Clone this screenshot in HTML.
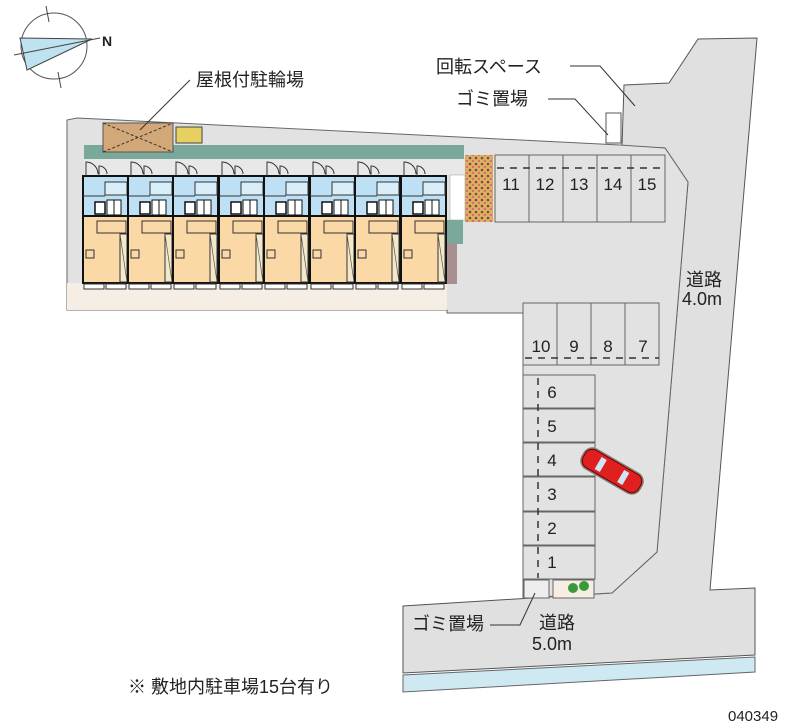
<!DOCTYPE html>
<html><head><meta charset="utf-8"><style>
html,body{margin:0;padding:0;background:#fff;}
svg{display:block;}
text{font-family:"Liberation Sans","Noto Sans CJK JP",sans-serif;fill:#222;}
</style></head><body>
<svg width="800" height="727" viewBox="0 0 800 727" xmlns="http://www.w3.org/2000/svg">
<defs>
<pattern id="brick" width="6" height="6" patternUnits="userSpaceOnUse">
<rect width="6" height="6" fill="#e0b060"/><circle cx="2" cy="2" r="1.3" fill="#705040"/><circle cx="5" cy="5" r="1.3" fill="#d07070"/>
</pattern>
<g id="unit">
<rect x="0" y="176" width="45" height="40" fill="#bde0f5" stroke="#111" stroke-width="2"/>
<rect x="0" y="216" width="45" height="67" fill="#fbd9a7" stroke="#111" stroke-width="2"/>
<path d="M3,176 L3,162 A12,12 0 0 1 15,174" fill="none" stroke="#333" stroke-width="1"/>
<path d="M16,176 L16,166 A8,8 0 0 1 24,174" fill="none" stroke="#333" stroke-width="1"/>
<rect x="22" y="182" width="22" height="13" fill="#d8eef8" stroke="#333" stroke-width="1"/>
<line x1="0" y1="196" x2="22" y2="196" stroke="#333" stroke-width="1"/>
<rect x="12" y="202" width="10" height="12" fill="#fff" stroke="#111" stroke-width="1.5"/>
<rect x="24" y="200" width="14" height="15" fill="#fff" stroke="#111" stroke-width="1"/>
<line x1="31" y1="200" x2="31" y2="215" stroke="#111"/>
<path d="M14,221 L43,221 L43,233 L14,233 Z" fill="none" stroke="#333" stroke-width="1"/>
<rect x="37" y="234" width="7" height="48" fill="#f5e8c8" stroke="#333" stroke-width="1"/>
<line x1="37" y1="234" x2="44" y2="282" stroke="#555" stroke-width="0.7"/>
<rect x="3" y="250" width="8" height="8" fill="none" stroke="#333" stroke-width="1"/>
<rect x="1" y="284" width="20" height="5" fill="#fff" stroke="#333" stroke-width="1"/>
<rect x="23" y="284" width="20" height="5" fill="#fff" stroke="#333" stroke-width="1"/>
</g>
</defs>
<!-- compass -->
<circle cx="54" cy="46" r="33" fill="none" stroke="#555" stroke-width="1"/>
<polygon points="20,38 92,39 27,70" fill="#bfe2f0" stroke="#444" stroke-width="1"/>
<line x1="14" y1="55" x2="100" y2="38" stroke="#444"/>
<line x1="46" y1="6" x2="49" y2="22" stroke="#444"/><line x1="58" y1="72" x2="61" y2="88" stroke="#444"/>
<text x="102" y="46" font-size="14" font-weight="bold">N</text>

<!-- right road -->
<polygon points="698,39 757,38 710,590 755,588 755,655 403,673 403,606 612,593 657,552 688,182 665,148 622,146 624,85 669,83" fill="#e0e0e0" stroke="#555" stroke-width="1"/>
<polygon points="403,675 755,657 755,672 403,692" fill="#cfe9f3" stroke="#666" stroke-width="1"/>
<!-- lot -->
<polygon points="77,118 620,145 665,148 688,182 657,552 612,593 523,598 523,313 447,313 447,310 67,310 67,120" fill="#e2e2e2" stroke="#666" stroke-width="1"/>
<rect x="67" y="283" width="380" height="27" fill="#f6eee4"/>
<rect x="84" y="145" width="380" height="14" fill="#7aa89a"/>
<rect x="84" y="159" width="380" height="16" fill="#e8e8e8"/>
<rect x="447" y="220" width="16" height="24" fill="#7aa89a"/>
<rect x="447" y="244" width="10" height="40" fill="#a89090"/>
<rect x="465" y="155" width="28" height="67" fill="url(#brick)"/>
<rect x="450" y="175" width="15" height="45" fill="#fff" stroke="#999" stroke-width="0.5"/>
<!-- bicycle parking -->
<rect x="103" y="123" width="70" height="29" fill="#d2a878" stroke="#555"/>
<line x1="103" y1="123" x2="173" y2="152" stroke="#333" stroke-dasharray="3,2"/><line x1="103" y1="152" x2="173" y2="123" stroke="#333" stroke-dasharray="3,2"/>
<rect x="176" y="127" width="26" height="16" fill="#e8d060" stroke="#444"/>
<line x1="140" y1="130" x2="190" y2="80" stroke="#333"/>
<!-- units -->
<use href="#unit" x="83"/><use href="#unit" x="128"/><use href="#unit" x="173"/><use href="#unit" x="219"/>
<use href="#unit" x="264"/><use href="#unit" x="310"/><use href="#unit" x="355"/><use href="#unit" x="401"/>
<!-- parking -->
<g fill="#e2e2e2" stroke="#666">
<rect x="495" y="155" width="34" height="67"/><rect x="529" y="155" width="34" height="67"/><rect x="563" y="155" width="34" height="67"/><rect x="597" y="155" width="34" height="67"/><rect x="631" y="155" width="34" height="67"/>
<rect x="523" y="303" width="34" height="62"/><rect x="557" y="303" width="34" height="62"/><rect x="591" y="303" width="34" height="62"/><rect x="625" y="303" width="34" height="62"/>
<rect x="523" y="375" width="72" height="33"/><rect x="523" y="409" width="72" height="33"/><rect x="523" y="443" width="72" height="33"/><rect x="523" y="477" width="72" height="34"/><rect x="523" y="512" width="72" height="33"/><rect x="523" y="546" width="72" height="33"/>
<rect x="524" y="580" width="25" height="18" fill="#eee"/><rect x="553" y="580" width="41" height="18" fill="#f6eee4"/>
</g>
<line x1="497" y1="168" x2="665" y2="168" stroke="#333" stroke-width="1.5" stroke-dasharray="7,6"/>
<line x1="525" y1="358" x2="659" y2="358" stroke="#333" stroke-width="1.5" stroke-dasharray="7,6"/>
<line x1="538" y1="378" x2="538" y2="578" stroke="#333" stroke-width="1.5" stroke-dasharray="7,6"/>
<circle cx="573" cy="588" r="5" fill="#3a9a3a"/><circle cx="584" cy="586" r="5" fill="#3a9a3a"/>
<g font-size="17" text-anchor="middle">
<text x="511" y="190">11</text><text x="545" y="190">12</text><text x="579" y="190">13</text><text x="613" y="190">14</text><text x="647" y="190">15</text>
<text x="541" y="352">10</text><text x="574" y="352">9</text><text x="608" y="352">8</text><text x="643" y="352">7</text>
<text x="552" y="398">6</text><text x="552" y="432">5</text><text x="552" y="466">4</text><text x="552" y="500">3</text><text x="552" y="534">2</text><text x="552" y="568">1</text>
</g>
<!-- car -->
<g transform="translate(612,471) rotate(30)">
<rect x="-34" y="-12" width="68" height="24" rx="10" fill="#8a7a70"/>
<rect x="-32" y="-10" width="64" height="20" rx="8" fill="#e02020" stroke="#600" stroke-width="1"/>
<rect x="-16" y="-7" width="6" height="14" fill="#cfe6f5"/><rect x="10" y="-7" width="6" height="14" fill="#cfe6f5"/>
</g>
<rect x="606" y="113" width="15" height="30" fill="#fff" stroke="#555"/>
<polyline points="570,66 600,66 635,106" fill="none" stroke="#333"/>
<polyline points="548,99 575,99 608,135" fill="none" stroke="#333"/>
<polyline points="490,625 520,625 535,593" fill="none" stroke="#333"/>
<g font-size="18">
<text x="196" y="86">屋根付駐輪場</text>
<text x="436" y="73">回転スペース</text>
<text x="456" y="105">ゴミ置場</text>
<text x="686" y="286">道路</text>
<text x="682" y="305">4.0m</text>
<text x="412" y="630">ゴミ置場</text>
<text x="539" y="629">道路</text>
<text x="532" y="650">5.0m</text>
<text x="128" y="693">※ 敷地内駐車場15台有り</text>
</g>
<text x="728" y="721" font-size="15">040349</text>
</svg>
</body></html>
